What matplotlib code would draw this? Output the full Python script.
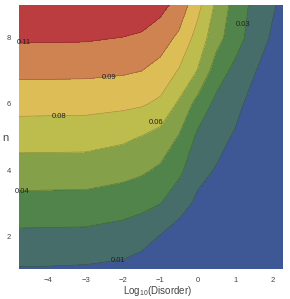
import numpy as np
import matplotlib
matplotlib.use("Agg")
from matplotlib import pyplot as plt

plt.rcParams['font.family'] = ['Liberation Sans', 'DejaVu Sans']
plt.rcParams['mathtext.default'] = 'regular'

# grid
log_disorder = [-4.78, -4, -3, -2, -1.5, -1, -0.5, 0, 0.5, 1, 1.5, 2, 2.28]
n_vals = [1, 2, 3, 4, 5, 6, 7, 8, 9]

# one list per row of n (n = 1 ... 9), columns follow log_disorder
z_n1 = [0.0141, 0.0139, 0.0133, 0.0115, 0.0080, 0.0020, 0.0000, 0.0000, 0.0000, 0.0000, 0.0000, 0.0000, 0.0000]
z_n2 = [0.0268, 0.0266, 0.0263, 0.0237, 0.0210, 0.0144, 0.0083, 0.0046, 0.0016, 0.0000, 0.0000, 0.0000, 0.0000]
z_n3 = [0.0401, 0.0399, 0.0397, 0.0367, 0.0341, 0.0304, 0.0212, 0.0121, 0.0078, 0.0005, 0.0000, 0.0000, 0.0000]
z_n4 = [0.0531, 0.0529, 0.0528, 0.0500, 0.0473, 0.0426, 0.0333, 0.0196, 0.0140, 0.0069, 0.0000, 0.0000, 0.0000]
z_n5 = [0.0664, 0.0662, 0.0660, 0.0628, 0.0594, 0.0544, 0.0439, 0.0271, 0.0201, 0.0133, 0.0030, 0.0000, 0.0000]
z_n6 = [0.0801, 0.0799, 0.0797, 0.0781, 0.0765, 0.0720, 0.0574, 0.0394, 0.0262, 0.0197, 0.0090, 0.0000, 0.0000]
z_n7 = [0.0936, 0.0934, 0.0932, 0.0918, 0.0900, 0.0848, 0.0738, 0.0591, 0.0371, 0.0262, 0.0164, 0.0050, 0.0000]
z_n8 = [0.1070, 0.1068, 0.1066, 0.1046, 0.1027, 0.0969, 0.0869, 0.0692, 0.0503, 0.0363, 0.0235, 0.0130, 0.0090]
z_n9 = [0.1200, 0.1198, 0.1195, 0.1177, 0.1150, 0.1097, 0.0997, 0.0795, 0.0568, 0.0390, 0.0263, 0.0166, 0.0120]

levels = [0.015, 0.03, 0.045, 0.06, 0.075, 0.09, 0.105]
band_colors = ['#3e5895', '#466d6a', '#50844a', '#84a048',
               '#bdbd4e', '#ddbd55', '#ce8350', '#bc3d3f']

# contour labels (text as shown, position in data units)
label_text = ['0.01', '0.03', '0.04', '0.06', '0.08', '0.09', '0.11']
label_x = [-2.13, 1.21, -4.70, -1.11, -3.71, -2.37, -4.64]
label_y = [1.25, 8.42, 3.36, 5.44, 5.62, 6.80, 7.85]

Z = np.array([z_n1, z_n2, z_n3, z_n4, z_n5, z_n6, z_n7, z_n8, z_n9])
X, Y = np.meshgrid(log_disorder, n_vals)

fig = plt.figure(figsize=(2.90, 2.99), dpi=100)
ax = fig.add_axes([0.0655, 0.1003, 0.9105, 0.883])

ax.contourf(X, Y, Z, levels=[-1] + levels + [1], colors=band_colors)
ax.contour(X, Y, Z, levels=levels, colors='k', linewidths=0.4, alpha=0.3)

for t, lx, ly in zip(label_text, label_x, label_y):
    ax.text(lx, ly, t, fontsize=5.5, ha='center', va='center',
            color='#222222', clip_on=False)

ax.set_xlim(-4.78, 2.28)
ax.set_ylim(1.0, 9.0)
ax.set_xticks([-4, -3, -2, -1, 0, 1, 2])
ax.set_yticks([2, 4, 6, 8])
ax.tick_params(length=0, labelsize=5.5, labelcolor='#444444', pad=6)
for s in ax.spines.values():
    s.set_visible(False)

fig.text(158 / 290, 1 - 291 / 299, r'Log$_{10}$(Disorder)', fontsize=7,
         ha='center', va='center', color='#444444')
fig.text(5 / 290, 1 - 138 / 299, 'n', fontsize=8, ha='center', va='center',
         color='#444444')

fig.savefig('out.png', dpi=100)
